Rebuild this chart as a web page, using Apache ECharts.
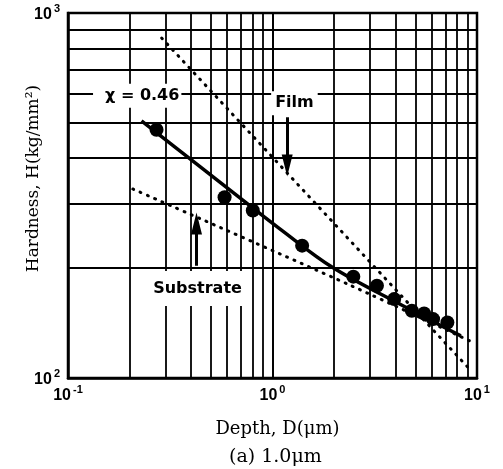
<!DOCTYPE html>
<html>
<head>
<meta charset="utf-8">
<script src="https://cdn.jsdelivr.net/npm/echarts@6/dist/echarts.min.js"></script>
<style>
html,body{margin:0;padding:0;background:#fff;}
#chart{width:503px;height:469px;}
</style>
</head>
<body>
<div id="chart"></div>
<script>
// ---- data (log-log) ----
const depth = [0.271, 0.583, 0.801, 1.396, 2.484, 3.241, 3.937, 4.80, 5.513, 6.10, 7.163];
const hardness = [479, 312.8, 287.6, 230.5, 189.5, 178.9, 164.5, 152.8, 150.2, 145.0, 141.9];

const fitDepth = [0.2288, 0.4405, 0.772, 1.082, 1.962, 4.164, 8.33];
const fitHardness = [506, 380, 297, 256.6, 201, 159.7, 130.4];

const filmDepth = [0.287, 9.31];
const filmHardness = [854, 105];

const substrateDepth = [0.2075, 2.375, 9.67];
const substrateHardness = [329.5, 180, 124.8];

const xTicks = [0.1, 1, 10];
const yTicks = [100, 1000];
const xMinorGrid = [0.2, 0.3, 0.4, 0.5, 0.6, 0.7, 0.8, 0.9, 1, 2, 3, 4, 5, 6, 7, 8, 9];
const yMinorGrid = [200, 300, 400, 500, 600, 700, 800, 900];

const labelTexts = ['χ = 0.46', 'Film', 'Substrate'];
const labelDepth = [0.218, 1.28, 0.43];
const labelHardness = [593, 566, 176];

const arrowDepth = [1.18, 0.425];
const arrowFromHardness = [518, 203];
const arrowToHardness = [382, 265];

const xTitle = 'Depth, D(μm)';
const yTitle = 'Hardness, H(kg/mm²)';
const caption = '(a) 1.0μm';

// ---- build chart ----
const pts = depth.map((d, i) => [d, hardness[i]]);
const fit = fitDepth.map((d, i) => [d, fitHardness[i]]);
const film = filmDepth.map((d, i) => [d, filmHardness[i]]);
const sub = substrateDepth.map((d, i) => [d, substrateHardness[i]]);

function expLabel(v) {
  const e = Math.round(Math.log10(v));
  return '{b|10}{s|' + e + '}';
}
const richTick = {
  b: {fontSize: 16, fontWeight: 'bold', fontFamily: 'Liberation Sans', color: '#000', lineHeight: 20, verticalAlign: 'bottom'},
  s: {fontSize: 11, fontWeight: 'bold', fontFamily: 'Liberation Sans', color: '#000', lineHeight: 20, verticalAlign: 'top', padding: [0, 0, 0, 2]}
};

const gridLineData = xMinorGrid.map(v => ({xAxis: v})).concat(yMinorGrid.map(v => ({yAxis: v})));

const labelPads = [[3, 2, 5, 12], [4, 4, 4, 4], [13, 6, 6, 6]];
const textMarks = labelTexts.map((t, i) => ({
  coord: [labelDepth[i], labelHardness[i]],
  value: t,
  label: {padding: labelPads[i]}
}));

const arrowData = arrowDepth.map((d, i) => [
  {coord: [d, arrowFromHardness[i]], symbol: 'none'},
  {coord: [d, arrowToHardness[i]], symbol: 'triangle'}
]);

const chart = echarts.init(document.getElementById('chart'), null, {renderer: 'canvas'});
chart.setOption({
  animation: false,
  backgroundColor: '#fff',
  grid: {left: 68, right: 26, top: 13, bottom: 91, show: true, borderColor: '#000', borderWidth: 2.5, backgroundColor: 'transparent'},
  xAxis: {
    type: 'log', logBase: 10, min: 0.1, max: 10,
    axisLine: {show: true, lineStyle: {color: '#000', width: 2.5}},
    axisTick: {show: false},
    splitLine: {show: true, lineStyle: {color: '#000', width: 1.8}},
    axisLabel: {formatter: expLabel, rich: richTick, margin: 6, showMinLabel: true, showMaxLabel: true},
    name: xTitle,
    nameLocation: 'middle', nameGap: 42, nameMoveOverlap: false,
    nameTextStyle: {fontFamily: 'DejaVu Serif', fontSize: 18, color: '#000', padding: [0, 0, 0, 10]}
  },
  yAxis: {
    type: 'log', logBase: 10, min: 100, max: 1000,
    axisLine: {show: true, lineStyle: {color: '#000', width: 2.5}},
    axisTick: {show: false},
    splitLine: {show: true, lineStyle: {color: '#000', width: 1.8}},
    axisLabel: {formatter: expLabel, rich: richTick, margin: 8, showMinLabel: true, showMaxLabel: true},
    name: yTitle,
    nameLocation: 'middle', nameGap: 26, nameMoveOverlap: false,
    nameTextStyle: {fontFamily: 'DejaVu Serif', fontSize: 17, color: '#000', padding: [0, 0, 0, 34]}
  },
  title: {
    text: caption, left: 224, top: 443,
    textStyle: {fontFamily: 'DejaVu Serif', fontSize: 19, fontWeight: 'normal', color: '#000'}
  },
  series: [
    {
      type: 'line', data: [], z: 1, silent: true,
      markLine: {
        silent: true, symbol: 'none', label: {show: false},
        lineStyle: {color: '#000', width: 1.8, type: 'solid'},
        data: gridLineData
      }
    },
    {
      type: 'line', data: film, showSymbol: false, z: 3,
      lineStyle: {color: '#000', width: 3, type: [1, 7], cap: 'round'}
    },
    {
      type: 'line', data: sub, showSymbol: false, smooth: 0.3, z: 3,
      lineStyle: {color: '#000', width: 3, type: [1, 7], cap: 'round'}
    },
    {
      type: 'line', data: fit, showSymbol: false, smooth: 0.35, z: 4,
      lineStyle: {color: '#000', width: 3.5}
    },
    {
      type: 'scatter', data: pts, symbol: 'circle', symbolSize: 14, z: 5,
      itemStyle: {color: '#000', opacity: 1}
    },
    {
      type: 'line', data: [], z: 6, silent: true,
      markPoint: {
        symbol: 'rect', symbolSize: 0, silent: true,
        label: {
          show: true, position: 'inside', formatter: p => p.value,
          fontFamily: 'DejaVu Sans', fontWeight: 'bold', fontSize: 16, color: '#000',
          backgroundColor: '#fff'
        },
        data: textMarks
      },
      markLine: {
        silent: true, symbolSize: [11, 22], label: {show: false},
        lineStyle: {color: '#000', width: 3, type: 'solid'},
        data: arrowData
      }
    }
  ]
});
</script>
</body>
</html>
